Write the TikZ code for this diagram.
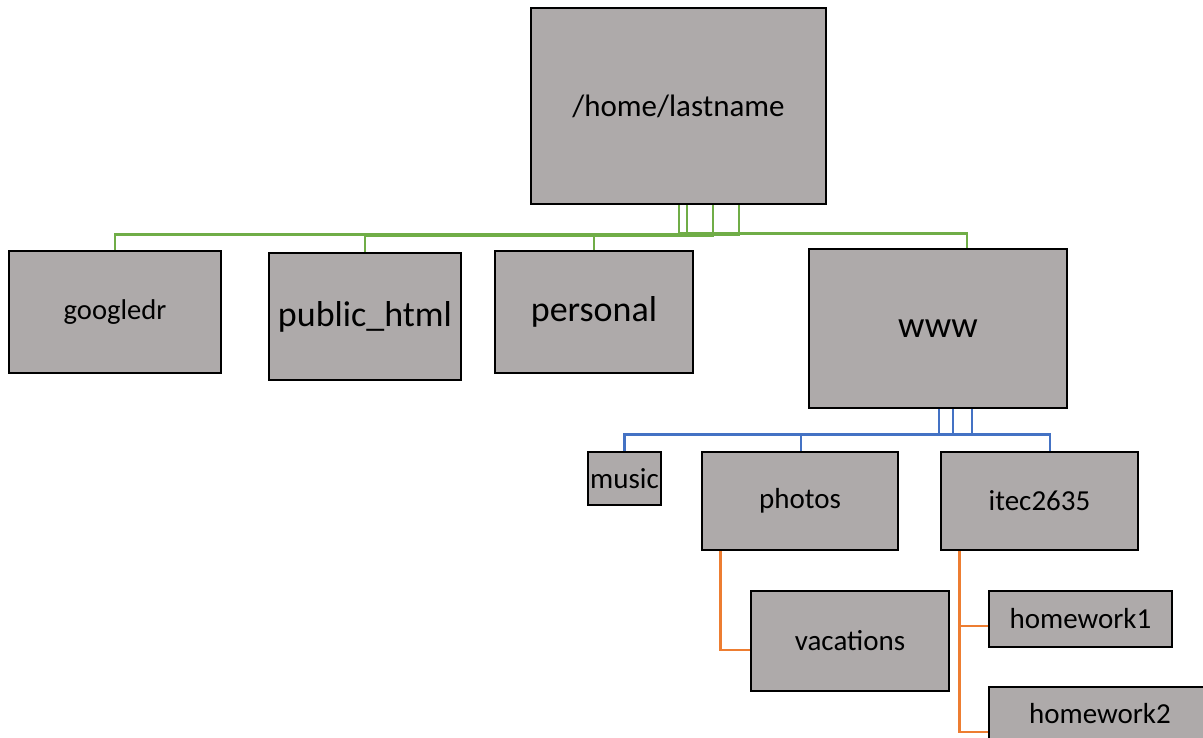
\documentclass[tikz,border=0pt]{standalone}
\usepackage{fontspec}
\setmainfont{Carlito}
\definecolor{boxgray}{RGB}{174,170,170}
\definecolor{lvlgreen}{RGB}{112,173,71}
\definecolor{lvlblue}{RGB}{68,114,196}
\definecolor{lvlorange}{RGB}{237,125,49}
\begin{document}
\begin{tikzpicture}[x=1pt,y=1pt,
    dirbox/.style={draw=black, line width=2.8pt, fill=boxgray, inner sep=0pt, font=\fontsize{29}{34}\selectfont},
    link/.style={line width=2.6pt}]
            \clip (0,0) rectangle (1203,738);
            % folders: name/x/y/width/height/size/label
            \foreach \n/\x/\y/\w/\h/\s/\t in {root/678.5/632/295/196/31/{/home/lastname},
                                            googledr/115/426/212/122/28.6/googledr,
                                            pubhtml/365/421.5/192/127/36/public\_html,
                                            personal/594/426/198/122/36/personal,
                                            www/938/409.5/258/159/37/www,
                                            music/624.5/259.5/73/53/29/music,
                                            photos/800/237/196/98/29/photos,
                                            itec/1039.5/237/197/98/29/itec2635,
                                            vacations/850/97/198/100/29/vacations,
                                            hwone/1080.5/119/183/56/29/homework1,
                                            hwtwo/1100/24/222/54/29/homework2}
            {
              \node[dirbox, minimum width=\w, minimum height=\h, font=\fontsize{\s}{\s}\selectfont] (\n) at (\x,\y) {\t};
            }
            % first level
            \draw[link, lvlgreen] ([xshift=60.5pt]root.south) -- ++(0,-29) -| (googledr.north);
            \draw[link, lvlgreen] ([xshift=34.5pt]root.south) -- ++(0,-30.5) -| (pubhtml.north);
            \draw[link, lvlgreen] ([xshift=8.5pt]root.south) -- ++(0,-29.5) -| (personal.north);
            \draw[link, lvlgreen] ([xshift=0.5pt]root.south) -- ++(0,-28) -| ([xshift=29pt]www.north);
            % second level
            \draw[link, lvlblue] ([xshift=34pt]www.south) -- ++(0,-25) -| (music.north);
            \draw[link, lvlblue] ([xshift=15pt]www.south) -- ++(0,-25) -| ([xshift=1pt]photos.north);
            \draw[link, lvlblue] ([xshift=1pt]www.south) -- ++(0,-25) -| ([xshift=10.5pt]itec.north);
            % third level
            \draw[link, lvlorange] ([xshift=20pt]photos.south west) |- ([yshift=-9pt]vacations.west);
            \draw[link, lvlorange] ([xshift=20pt]itec.south west) |- ([yshift=-7pt]hwone.west);
            \draw[link, lvlorange] ([xshift=20pt]itec.south west) |- ([yshift=-18pt]hwtwo.west);
        \end{tikzpicture}
\end{document}
